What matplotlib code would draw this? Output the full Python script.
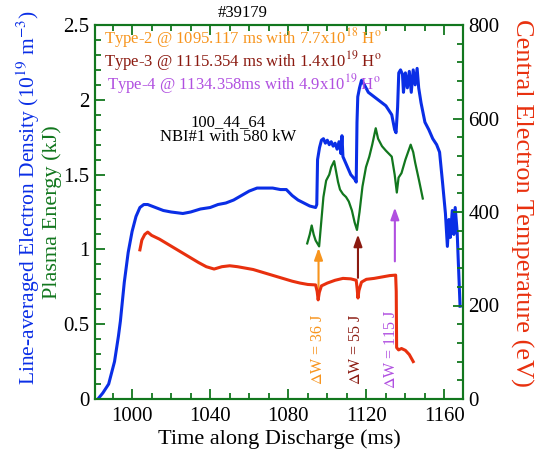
import matplotlib

matplotlib.use("Agg")
import matplotlib.pyplot as plt
from matplotlib.ticker import MultipleLocator, FormatStrFormatter

plt.rcParams["font.family"] = ["Liberation Serif", "DejaVu Serif"]
plt.rcParams["mathtext.fontset"] = "stix"

BLUE = "#0a2ee6"
GREEN = "#12771e"
RED = "#e8300e"
ORANGE = "#f7941d"
DARKRED = "#8b1a10"
PURPLE = "#b04fe0"

# line-averaged density (1e19 m^-3), left axis
ne_t = [982.5, 985, 988, 991, 993, 994, 996, 998, 1000, 1002, 1004, 1006, 1008,
        1012, 1016, 1020, 1026, 1030, 1035, 1040, 1044, 1048, 1052, 1056, 1060,
        1064, 1068, 1072, 1076, 1079, 1082, 1085, 1088, 1091, 1094, 1094.6,
        1095, 1096, 1097, 1098, 1099, 1100, 1101, 1102, 1103, 1104, 1105, 1106,
        1107, 1107.5, 1108, 1110, 1112, 1114, 1114.8, 1115.2, 1115.6, 1116.5,
        1117.5, 1119, 1121, 1124, 1127, 1130, 1133, 1134.5, 1135.2, 1136,
        1136.6, 1137.5, 1138.5, 1139, 1140, 1141, 1142, 1143, 1144, 1145, 1146,
        1146.8, 1148, 1150, 1152, 1154, 1156, 1157.5, 1159, 1160.5, 1161.5,
        1162.3, 1163, 1164, 1164.8, 1165.5, 1166.5, 1167, 1168]
ne_v = [0.0, 0.04, 0.10, 0.25, 0.42, 0.52, 0.78, 0.98, 1.12, 1.22, 1.28, 1.30, 1.30,
        1.28, 1.26, 1.25, 1.24, 1.25, 1.27, 1.28, 1.30, 1.31, 1.33, 1.36, 1.39,
        1.41, 1.41, 1.41, 1.40, 1.40, 1.36, 1.33, 1.31, 1.29, 1.28, 1.30,
        1.60, 1.68, 1.73, 1.74, 1.71, 1.73, 1.70, 1.72, 1.69, 1.71, 1.67, 1.72,
        1.64, 1.76, 1.62, 1.56, 1.50, 1.47, 1.45, 1.85, 2.02, 2.08,
        2.13, 2.10, 2.05, 2.02, 1.99, 1.96, 1.90, 1.80, 1.78, 1.95,
        2.18, 2.20, 2.17, 2.05, 2.18, 2.08, 2.19, 2.05, 2.20, 2.10, 2.21,
        2.08, 1.98, 1.85, 1.80, 1.74, 1.70, 1.65, 1.45, 1.24, 1.02,
        1.20, 1.08, 1.26, 1.10, 1.28, 1.12, 0.95, 0.62]

# plasma energy (kJ), left axis
w_t = [1089.7, 1091, 1092, 1093, 1094, 1095.8, 1097, 1098, 1099.4, 1101, 1102,
       1103.5, 1104.5, 1105.5, 1106.5, 1108, 1109.6, 1111, 1112.6, 1114, 1115.2,
       1116.5, 1118, 1119.8, 1121.5, 1123, 1124.8, 1126, 1128, 1130, 1133,
       1134.5, 1135.6, 1136.5, 1138, 1140, 1142.7, 1144, 1145, 1147, 1148.9]
w_v = [1.04, 1.10, 1.16, 1.10, 1.06, 1.02, 1.20, 1.35, 1.46, 1.50, 1.55,
       1.59, 1.52, 1.45, 1.40, 1.37, 1.35, 1.32, 1.26, 1.18, 1.13,
       1.25, 1.42, 1.55, 1.62, 1.70, 1.81, 1.74, 1.69, 1.66, 1.62,
       1.50, 1.38, 1.48, 1.51, 1.60, 1.70, 1.65, 1.58, 1.46, 1.34]

# central electron temperature (eV), right axis
te_t = [1004, 1005, 1006.5, 1008, 1010, 1014, 1018, 1022, 1026, 1030, 1034, 1038,
        1042, 1046, 1050, 1054, 1058, 1062, 1066, 1070, 1074, 1078, 1082, 1086,
        1090, 1094, 1094.8, 1095.3, 1095.9, 1097, 1100, 1104, 1108, 1112,
        1114.8, 1115.3, 1115.7, 1116.2, 1117.5, 1120, 1124, 1128, 1132, 1135,
        1135.3, 1135.5, 1136.5, 1138, 1140, 1142, 1144]
te_v = [319, 340, 352, 357, 350, 342, 332, 322, 312, 302, 292, 283,
        278, 283, 285, 283, 280, 277, 272, 267, 262, 257, 252, 248,
        245, 244, 230, 212, 228, 242, 248, 254, 258, 257,
        254, 235, 216, 232, 250, 256, 258, 261, 264, 265,
        230, 110, 105, 108, 104, 95, 80]

# ELM events: time, arrow tail/head (left-axis units), label, colour
elm_t = [1095.5, 1115.7, 1134.6]
elm_tail = [0.68, 0.81, 0.92]
elm_head = [1.01, 1.10, 1.28]
elm_dw = [r"$\Delta$W = 36 J", r"$\Delta$W = 55 J", r"$\Delta$W = 115 J"]
elm_txt_x = [1095.3, 1114.7, 1132.6]
elm_col = [ORANGE, DARKRED, PURPLE]

type_lines = [r"Type-2 @ 1095.117 ms with 7.7x10$^{18}$ H$^{\rm o}$",
              r"Type-3 @ 1115.354 ms with 1.4x10$^{19}$ H$^{\rm o}$",
              r"Type-4 @ 1134.358ms with 4.9x10$^{19}$ H$^{\rm o}$"]

fig = plt.figure(figsize=(5.36, 4.58), dpi=100)
ax = fig.add_axes([95 / 536, 1 - 399 / 458, 368 / 536, 374 / 458])
ax2 = ax.twinx()

ax.plot(ne_t, ne_v, color=BLUE, lw=2.2, zorder=3)
ax.plot(w_t, w_v, color=GREEN, lw=1.6, zorder=3)
ax2.plot(te_t, te_v, color=RED, lw=2.2)

ax.set_xlim(981, 1169.5)
ax.set_ylim(0, 2.5)
ax2.set_ylim(0, 800)

ax.xaxis.set_major_locator(MultipleLocator(40))
ax.xaxis.set_minor_locator(MultipleLocator(10))
ax.yaxis.set_major_locator(MultipleLocator(0.5))
ax.yaxis.set_minor_locator(MultipleLocator(0.1))
ax.yaxis.set_major_formatter(FormatStrFormatter("%g"))
ax2.yaxis.set_major_locator(MultipleLocator(200))
ax2.yaxis.set_minor_locator(MultipleLocator(40))

for a in (ax, ax2):
    for s in a.spines.values():
        s.set_color(GREEN)
        s.set_linewidth(1.5)
    a.tick_params(which="both", direction="in", color=GREEN, width=1.3,
                  labelsize=15, pad=4)
    a.tick_params(which="major", length=7)
    a.tick_params(which="minor", length=4)
ax.tick_params(which="both", top=True, right=False)
ax.tick_params(axis="x", pad=6)
ax2.tick_params(which="both", right=True)

ax.set_xlabel("Time along Discharge (ms)", fontsize=16, labelpad=2)
fig.text(28 / 536, 1 - 198 / 458,
         r"Line-averaged Electron Density (10$^{19}$ m$^{-3}$)",
         rotation=90, color=BLUE, fontsize=15.5, ha="center", va="center")
fig.text(52 / 536, 1 - 212 / 458, "Plasma Energy (kJ)", rotation=90,
         color=GREEN, fontsize=16, ha="center", va="center")
fig.text(522 / 536, 1 - 203 / 458, "Central Electron Temperature (eV)",
         rotation=270, color=RED, fontsize=19, ha="center", va="center")

fig.text(243 / 536, 1 - 13 / 458, "#39179", fontsize=12, ha="center",
         va="center")

for i, (s, c) in enumerate(zip(type_lines, elm_col)):
    ax.text(0.025 + (0.008 if i == 2 else 0), 0.966 - i * 0.062, s, color=c,
            fontsize=12, transform=ax.transAxes, ha="left", va="center")

ax.text(1049, 1.80, "100_44_64\nNBI#1 with 580 kW", fontsize=12,
        ha="center", va="center", linespacing=0.95)

for t, y0, y1, lab, tx, c in zip(elm_t, elm_tail, elm_head, elm_dw,
                                 elm_txt_x, elm_col):
    ax.annotate("", xy=(t, y1), xytext=(t, y0),
                arrowprops=dict(arrowstyle="-|>,head_width=0.25,head_length=0.7",
                                color=c, lw=1.5, shrinkA=0, shrinkB=0))
    ax.text(tx, 0.33, lab, rotation=90, color=c, fontsize=11.5,
            ha="center", va="center")

fig.savefig("out.png", dpi=100)
